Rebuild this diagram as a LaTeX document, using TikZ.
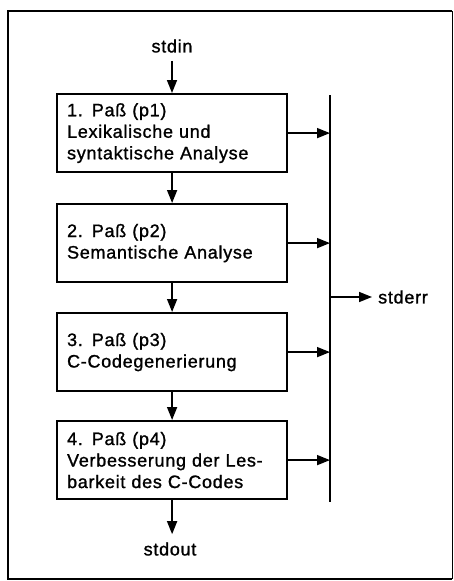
\documentclass[tikz,border=0pt]{standalone}
\usepackage{fontspec}
\setmainfont{Liberation Sans}[LetterSpace=4.0, FakeBold=1.2]
\usetikzlibrary{arrows.meta}
\begin{document}
\begin{tikzpicture}[x=1pt,y=-1pt,
  pass/.style={draw, line width=2.2pt, anchor=north west,
    minimum width=230pt, minimum height=78pt, text width=210pt,
    inner xsep=10pt, inner ysep=4pt, align=left,
    font=\fontsize{18}{21.5}\selectfont},
  flow/.style={line width=1.6pt, -{Triangle[length=13pt,width=10pt]}},
  lbl/.style={font=\fontsize{18}{21.5}\selectfont, inner sep=0pt}]
\useasboundingbox (0,0) rectangle (454,581);
% outer frame
\draw[line width=2.8pt] (452,11) -- (8,11) -- (8,579) -- (452,579);
\draw[line width=1pt] (452,11) -- (452,579);

% the four passes
\node[pass] (p1) at (56,93) {1.\hspace{0.5em}Paß (p1)\\Lexikalische und\\syntaktische Analyse};
\node[pass] (p2) at (56,203) {2.\hspace{0.5em}Paß (p2)\\Semantische Analyse};
\node[pass] (p3) at (56,312) {3.\hspace{0.5em}Paß (p3)\\C-Codegenerierung};
\node[pass] (p4) at (56,420) {4.\hspace{0.5em}Paß (p4)\\Verbesserung der Les-\\barkeit des C-Codes};

% input and output
\node[lbl] (in) at (172,46) {stdin};
\node[lbl] (out) at (170,549) {stdout};
\draw[flow, shorten <=8pt] (in.south) -- (in.south |- p1.north);
\draw[flow] (p1.south) -- (p2.north);
\draw[flow] (p2.south) -- (p3.north);
\draw[flow] (p3.south) -- (p4.north);
\draw[flow, shorten >=8pt] (p4.south) -- (p4.south |- out.north);

% error bus
\coordinate (bt) at (330,95);
\coordinate (bb) at (330,502);
\coordinate (tap) at (330,297);
\draw[line width=1.8pt] (bt) -- (bb);
\foreach \p in {p1,p2,p3,p4}
  \draw[flow] (\p.east) -- (\p.east -| bt);
\node[lbl, anchor=west] (err) at (378,297) {stderr};
\draw[flow, shorten >=6pt] (tap) -- (err.west);
\end{tikzpicture}
\end{document}
